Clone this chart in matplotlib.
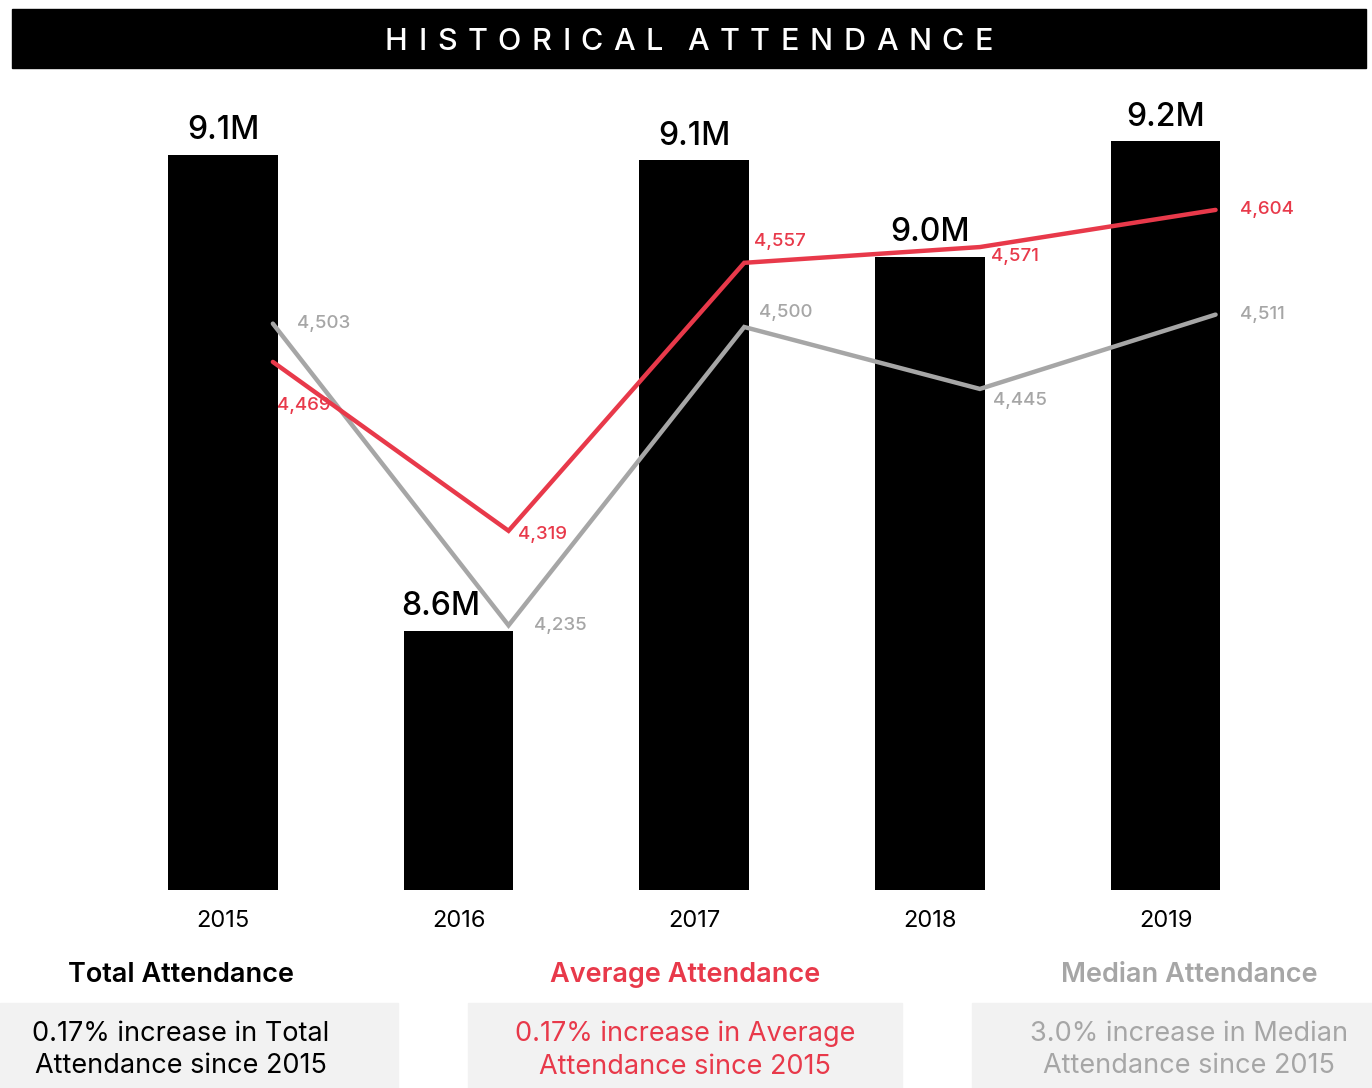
import matplotlib
matplotlib.use("Agg")
import matplotlib.pyplot as plt
from matplotlib.patches import Rectangle

plt.rcParams['font.family'] = ['Inter', 'DejaVu Sans']

years = ["2015", "2016", "2017", "2018", "2019"]
total_attendance_m = [9.140, 8.580, 9.134, 9.020, 9.156]
average_attendance = [4469, 4319, 4557, 4571, 4604]
median_attendance = [4503, 4235, 4500, 4445, 4511]

title = "HISTORICAL ATTENDANCE"
headings = ["Total Attendance", "Average Attendance", "Median Attendance"]
notes = ["0.17% increase in Total\nAttendance since 2015",
         "0.17% increase in Average\nAttendance since 2015",
         "3.0% increase in Median\nAttendance since 2015"]

RED = "#e8394a"
GRAY = "#a6a6a6"
BOX = "#f2f2f2"

W, H = 1372, 1088
fig = plt.figure(figsize=(W / 100, H / 100), dpi=100)
renderer = fig.canvas.get_renderer()

def fx(px):
    return px / W

def fy(py):
    return 1 - py / H

# title bar
fig.patches.append(Rectangle((fx(12), fy(68)), fx(1366) - fx(12), fy(9) - fy(68),
                             transform=fig.transFigure, color="black", zorder=0))
# letter-spaced title, drawn letter by letter
title_kw = dict(color="white", fontsize=22, fontweight="medium", va="center", ha="left")
words = title.split()
widths = []
for wd in words:
    ws = []
    for ch in wd:
        t = fig.text(0, 0, ch, **title_kw)
        ws.append(t.get_window_extent(renderer).width)
        t.remove()
    widths.append(ws)
x0_px, x1_px = 385, 993
n_gaps = sum(len(wd) - 1 for wd in words)
word_gap_factor = 2.3
total_w = sum(sum(ws) for ws in widths)
track = (x1_px - x0_px - total_w) / (n_gaps + word_gap_factor * (len(words) - 1))
cur = x0_px
for wi, (wd, ws) in enumerate(zip(words, widths)):
    for ci, (ch, w) in enumerate(zip(wd, ws)):
        fig.text(fx(cur), fy(42), ch, **title_kw)
        cur += w + (track if ci < len(wd) - 1 else 0)
    cur += track * word_gap_factor

ax = fig.add_axes([fx(81.5), fy(890), fx(1307) - fx(81.5), fy(100) - fy(890)])
base = 8.275
x = list(range(len(years)))
ax.bar(x, [v - base for v in total_attendance_m], bottom=base, width=0.465, color="black")
ax.set_ylim(base, base + 790 / 850)
ax.set_xlim(-0.6, 4.6)
label_dx = [0, -13, 0, 0, 0]
for xi, v, dx in zip(x, total_attendance_m, label_dx):
    ax.annotate(f"{v:.1f}M", (xi, v), xytext=(dx, 11), textcoords="offset points",
                ha="center", va="baseline", fontsize=23, fontweight="medium", color="black")
ax.set_xticks(x)
ax.set_xticklabels(years, fontsize=17)
ax.tick_params(axis="x", length=0, pad=14.5)
ax.set_yticks([])
for s in ax.spines.values():
    s.set_visible(False)

ax2 = ax.twinx()
ax2.set_ylim(4000, 4000 + 790 / 1.126)
xl = [xi + 0.212 for xi in x]
ax2.plot(xl, median_attendance, color=GRAY, lw=3.2, solid_capstyle="round", solid_joinstyle="miter")
ax2.plot(xl, average_attendance, color=RED, lw=3.2, solid_capstyle="round", solid_joinstyle="miter")
ax2.set_yticks([])
for s in ax2.spines.values():
    s.set_visible(False)

red_off = [(4, -44), (9, -4), (10, 21), (11, -9), (24, 0)]
gray_off = [(24, 0), (25, 0), (15, 14), (13, -12), (24, 0)]
for xi, v, (dx, dy) in zip(xl, average_attendance, red_off):
    ax2.annotate(f"{v:,}", (xi, v), xytext=(dx * 0.72, dy * 0.72), textcoords="offset points",
                 ha="left", va="center", fontsize=13.5, color=RED, fontweight="medium")
for xi, v, (dx, dy) in zip(xl, median_attendance, gray_off):
    ax2.annotate(f"{v:,}", (xi, v), xytext=(dx * 0.72, dy * 0.72), textcoords="offset points",
                 ha="left", va="center", fontsize=13.5, color=GRAY, fontweight="medium")

# bottom summary panels
head_x = [181, 685, 1189]
box_x = [(0, 398), (468, 902), (972, 1372)]
colors = ["black", RED, GRAY]
for hx, (b0, b1), head, note, c in zip(head_x, box_x, headings, notes, colors):
    fig.text(fx(hx), fy(975), head, ha="center", va="center", fontsize=19.5,
             fontweight="semibold", color=c)
    fig.patches.append(Rectangle((fx(b0), fy(1088)), fx(b1) - fx(b0), fy(1003) - fy(1088),
                                 transform=fig.transFigure, color=BOX, zorder=0))
    fig.text(fx(hx), fy(1050), note, ha="center", va="center", fontsize=19.5,
             color=c, linespacing=1.34)

fig.savefig("out.png", dpi=100, facecolor="white")
